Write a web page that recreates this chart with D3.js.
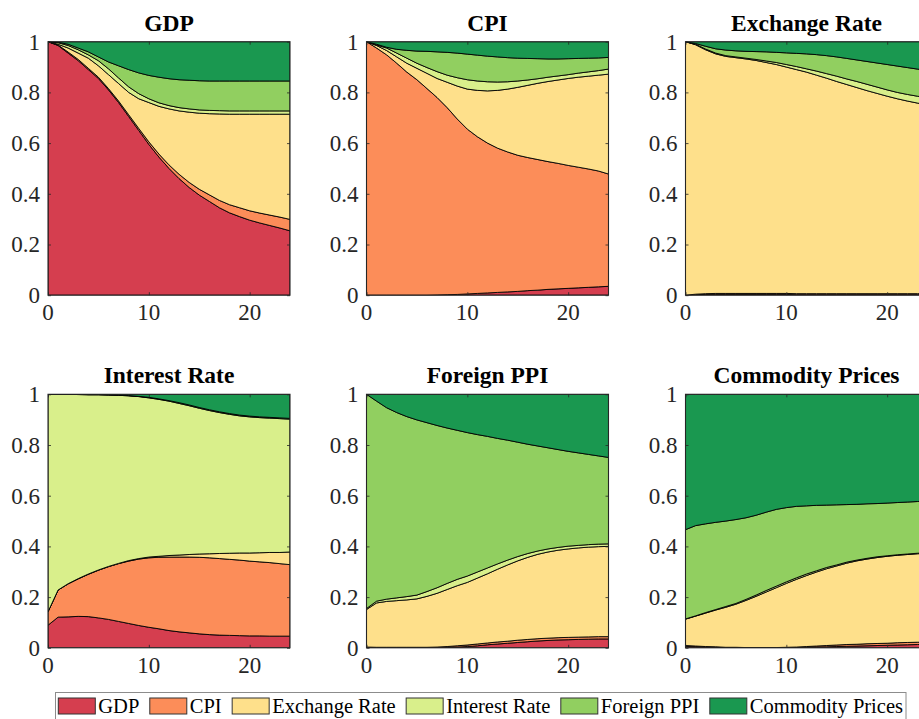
<!DOCTYPE html>
<html>
<head>
<meta charset="utf-8">
<script src="https://cdn.jsdelivr.net/npm/d3@7"></script>
</head>
<body style="margin:0">
<svg id="chart" width="919" height="719"></svg>
<script>
// ---------------- DATA ----------------
const series = ["GDP", "CPI", "Exchange Rate", "Interest Rate", "Foreign PPI", "Commodity Prices"];
const seriesColors = ["#d53e4f", "#fc8d59", "#fee08b", "#d9ef8b", "#91cf60", "#1a9850"];
const horizons = [0,1,2,3,4,5,6,7,8,9,10,11,12,13,14,15,16,17,18,19,20,21,22,23,24];
const panelTitles = ["GDP", "CPI", "Exchange Rate", "Interest Rate", "Foreign PPI", "Commodity Prices"];
const yTickValues = [0, 0.2, 0.4, 0.6, 0.8, 1];
const yTickLabels = ["0", "0.2", "0.4", "0.6", "0.8", "1"];
const xTickValues = [0, 10, 20];
const xTickLabels = ["0", "10", "20"];

// Variance shares, one row per shock (GDP, CPI, Exchange Rate, Interest Rate, Foreign PPI, Commodity Prices)
const vdGDP = [
  [1.0,0.985,0.955,0.925,0.89,0.855,0.81,0.76,0.705,0.65,0.595,0.545,0.50,0.46,0.425,0.395,0.37,0.345,0.325,0.31,0.296,0.285,0.275,0.265,0.254],
  [0,0.002,0.004,0.005,0.005,0.005,0.005,0.006,0.007,0.008,0.01,0.012,0.014,0.017,0.02,0.023,0.026,0.029,0.032,0.035,0.037,0.039,0.041,0.043,0.045],
  [0,0.003,0.016,0.025,0.04,0.045,0.055,0.069,0.088,0.117,0.155,0.188,0.221,0.25,0.277,0.30,0.32,0.341,0.357,0.369,0.381,0.39,0.398,0.406,0.415],
  [0,0.006,0.01,0.013,0.013,0.02,0.023,0.022,0.022,0.02,0.015,0.014,0.013,0.013,0.013,0.013,0.013,0.013,0.013,0.013,0.013,0.013,0.013,0.013,0.013],
  [0,0.002,0.005,0.007,0.012,0.015,0.027,0.048,0.068,0.082,0.092,0.101,0.106,0.11,0.113,0.115,0.116,0.117,0.118,0.118,0.118,0.118,0.118,0.118,0.118],
  [0,0.002,0.01,0.025,0.04,0.06,0.08,0.095,0.11,0.123,0.133,0.14,0.146,0.15,0.152,0.154,0.155,0.155,0.155,0.155,0.155,0.155,0.155,0.155,0.155]
];
const vdCPI = [
  [0,0,0,0,0,0,0,0.001,0.002,0.003,0.005,0.007,0.009,0.011,0.013,0.015,0.018,0.02,0.023,0.025,0.027,0.029,0.031,0.033,0.035],
  [1,0.975,0.948,0.915,0.88,0.85,0.815,0.779,0.738,0.692,0.65,0.618,0.591,0.569,0.552,0.537,0.525,0.515,0.504,0.495,0.485,0.476,0.467,0.457,0.443],
  [0,0.01,0.017,0.025,0.035,0.045,0.06,0.075,0.10,0.13,0.158,0.183,0.206,0.228,0.248,0.268,0.285,0.301,0.316,0.329,0.343,0.355,0.366,0.378,0.394],
  [0,0.002,0.01,0.015,0.02,0.02,0.023,0.027,0.028,0.033,0.037,0.037,0.036,0.033,0.029,0.025,0.021,0.018,0.017,0.016,0.015,0.016,0.017,0.018,0.02],
  [0,0.003,0.003,0.015,0.031,0.048,0.064,0.078,0.09,0.097,0.101,0.102,0.101,0.099,0.095,0.09,0.085,0.079,0.072,0.067,0.063,0.058,0.054,0.05,0.046],
  [0,0.01,0.022,0.03,0.034,0.037,0.038,0.04,0.042,0.045,0.049,0.053,0.057,0.06,0.063,0.065,0.066,0.067,0.068,0.068,0.067,0.066,0.065,0.064,0.062]
];
const vdER = [
  [0,0.002,0.003,0.003,0.003,0.003,0.003,0.003,0.003,0.003,0.003,0.002,0.002,0.002,0.002,0.002,0.002,0.002,0.002,0.002,0.002,0.002,0.002,0.002,0.002],
  [0,0.002,0.003,0.004,0.004,0.004,0.004,0.004,0.004,0.004,0.004,0.004,0.004,0.004,0.004,0.004,0.004,0.004,0.004,0.004,0.004,0.004,0.004,0.004,0.004],
  [1,0.984,0.962,0.945,0.935,0.93,0.925,0.919,0.911,0.903,0.893,0.884,0.874,0.862,0.85,0.837,0.825,0.813,0.801,0.79,0.779,0.769,0.76,0.752,0.744],
  [0,0.002,0.003,0.003,0.003,0.003,0.003,0.004,0.006,0.008,0.01,0.012,0.013,0.016,0.018,0.021,0.022,0.024,0.025,0.025,0.025,0.025,0.026,0.027,0.028],
  [0,0.003,0.011,0.017,0.022,0.024,0.027,0.031,0.036,0.04,0.046,0.052,0.059,0.065,0.071,0.076,0.081,0.085,0.09,0.095,0.1,0.104,0.106,0.107,0.108],
  [0,0.007,0.018,0.028,0.033,0.036,0.038,0.039,0.04,0.042,0.044,0.046,0.048,0.051,0.055,0.06,0.066,0.072,0.078,0.084,0.09,0.096,0.102,0.108,0.114]
];
const vdIR = [
  [0.089,0.121,0.122,0.124,0.123,0.118,0.112,0.104,0.096,0.088,0.081,0.075,0.068,0.063,0.059,0.055,0.052,0.05,0.049,0.048,0.047,0.047,0.046,0.046,0.046],
  [0.053,0.107,0.13,0.148,0.167,0.188,0.208,0.228,0.246,0.262,0.274,0.282,0.29,0.295,0.299,0.302,0.303,0.302,0.30,0.298,0.295,0.292,0.29,0.286,0.282],
  [0,0,0.001,0.001,0.001,0.001,0.001,0.001,0.002,0.002,0.003,0.004,0.006,0.008,0.01,0.013,0.016,0.02,0.024,0.028,0.032,0.036,0.04,0.044,0.05],
  [0.858,0.772,0.747,0.726,0.707,0.691,0.676,0.663,0.65,0.639,0.628,0.619,0.609,0.598,0.587,0.575,0.565,0.556,0.548,0.541,0.537,0.533,0.53,0.528,0.524],
  [0,0,0,0.001,0.001,0.001,0.001,0.001,0.001,0.001,0.002,0.002,0.002,0.003,0.003,0.003,0.003,0.003,0.003,0.003,0.003,0.003,0.003,0.003,0.003],
  [0,0,0,0,0.001,0.001,0.002,0.003,0.005,0.008,0.012,0.018,0.025,0.033,0.042,0.052,0.061,0.069,0.076,0.082,0.086,0.089,0.091,0.093,0.095]
];
const vdFP = [
  [0,0,0,0,0,0,0,0,0.001,0.003,0.005,0.008,0.012,0.015,0.018,0.021,0.024,0.027,0.029,0.031,0.032,0.033,0.034,0.035,0.035],
  [0.003,0.002,0.002,0.002,0.002,0.002,0.002,0.003,0.004,0.005,0.006,0.007,0.007,0.008,0.008,0.009,0.009,0.009,0.009,0.009,0.009,0.009,0.009,0.009,0.009],
  [0.148,0.175,0.181,0.184,0.187,0.191,0.201,0.212,0.225,0.237,0.247,0.26,0.273,0.287,0.301,0.313,0.324,0.333,0.34,0.345,0.349,0.352,0.354,0.355,0.356],
  [0.004,0.007,0.009,0.011,0.013,0.015,0.019,0.022,0.024,0.025,0.025,0.024,0.023,0.021,0.019,0.017,0.015,0.013,0.012,0.011,0.011,0.01,0.01,0.01,0.01],
  [0.845,0.789,0.755,0.731,0.71,0.691,0.666,0.64,0.613,0.588,0.566,0.542,0.519,0.495,0.473,0.451,0.431,0.414,0.399,0.386,0.374,0.365,0.356,0.348,0.341],
  [0,0.027,0.053,0.072,0.088,0.101,0.112,0.123,0.133,0.142,0.151,0.159,0.166,0.174,0.181,0.189,0.197,0.204,0.211,0.218,0.225,0.231,0.237,0.243,0.249]
];
const vdCP = [
  [0.005,0.004,0.003,0.002,0.001,0.001,0,0,0,0,0,0.001,0.002,0.003,0.004,0.005,0.006,0.007,0.008,0.009,0.01,0.011,0.012,0.013,0.013],
  [0.004,0.003,0.002,0.002,0.001,0.001,0.001,0.001,0.001,0.001,0.002,0.002,0.003,0.004,0.005,0.006,0.007,0.007,0.008,0.008,0.008,0.009,0.009,0.009,0.009],
  [0.104,0.118,0.132,0.145,0.158,0.17,0.186,0.202,0.219,0.236,0.252,0.267,0.28,0.292,0.303,0.312,0.321,0.329,0.334,0.339,0.343,0.345,0.347,0.349,0.351],
  [0.001,0.001,0.002,0.002,0.003,0.003,0.004,0.005,0.006,0.006,0.006,0.006,0.006,0.005,0.005,0.004,0.004,0.003,0.003,0.003,0.002,0.002,0.002,0.002,0.002],
  [0.352,0.356,0.35,0.344,0.337,0.331,0.322,0.315,0.309,0.303,0.293,0.282,0.269,0.258,0.246,0.237,0.227,0.22,0.215,0.21,0.208,0.206,0.205,0.204,0.204],
  [0.534,0.518,0.511,0.505,0.5,0.494,0.487,0.477,0.465,0.454,0.447,0.442,0.44,0.438,0.437,0.436,0.435,0.434,0.432,0.431,0.429,0.427,0.425,0.423,0.421]
];
const panelData = [vdGDP, vdCPI, vdER, vdIR, vdFP, vdCP];

// ---------------- LAYOUT ----------------
const FONT = '"Liberation Serif"';
const colLefts = [48, 366.5, 685.5];
const rowTops = [41.7, 394.3];
const plotW = 242, plotH = 253.5;

const svg = d3.select("#chart");
const defs = svg.append("defs");

const x = d3.scaleLinear().domain([0, 24]).range([0, plotW]);
const y = d3.scaleLinear().domain([0, 1]).range([plotH, 0]);

const stack = d3.stack().keys(d3.range(series.length)).value((row, k) => row[k]);
const area = d3.area()
  .x(d => x(d.data.h))
  .y0(d => y(d[0]))
  .y1(d => y(d[1]));

function addText(parent) {
  return parent.append("text").style("font-family", FONT);
}

panelData.forEach((vd, pi) => {
  const cx = colLefts[pi % 3], cy = rowTops[Math.floor(pi / 3)];
  const g = svg.append("g").attr("transform", `translate(${cx},${cy})`);

  const clipId = "clip" + pi;
  defs.append("clipPath").attr("id", clipId)
    .append("rect").attr("x", 0).attr("y", 0).attr("width", plotW).attr("height", plotH);

  const rows = horizons.map((h, i) => {
    const r = { h: h };
    vd.forEach((s, k) => { r[k] = s[i]; });
    return r;
  });
  const stacked = stack(rows);

  g.append("g").attr("clip-path", `url(#${clipId})`)
    .selectAll("path").data(stacked).join("path")
    .attr("d", area)
    .attr("fill", (d, i) => seriesColors[i])
    .attr("stroke", "#000")
    .attr("stroke-width", 0.9)
    .attr("stroke-linejoin", "round");

  // Tick marks via d3 axes (labels drawn separately as plain text)
  const axL = g.append("g").call(d3.axisLeft(y).tickValues(yTickValues).tickFormat("").tickSizeInner(-3).tickSizeOuter(0));
  const axB = g.append("g").attr("transform", `translate(0,${plotH})`)
    .call(d3.axisBottom(x).tickValues(xTickValues).tickFormat("").tickSizeInner(-3).tickSizeOuter(0));
  const axR = g.append("g").attr("transform", `translate(${plotW},0)`)
    .call(d3.axisRight(y).tickValues(yTickValues).tickFormat("").tickSizeInner(-3).tickSizeOuter(0));
  const axT = g.append("g")
    .call(d3.axisTop(x).tickValues(xTickValues).tickFormat("").tickSizeInner(-3).tickSizeOuter(0));
  [axL, axB, axR, axT].forEach(a => {
    a.select(".domain").remove();
    a.selectAll(".tick text").remove();
    a.selectAll(".tick line").attr("stroke", "#262626").attr("stroke-width", 0.8);
  });

  // Tick labels
  yTickValues.forEach((v, i) => {
    addText(g).attr("x", -8).attr("y", y(v) + 8)
      .attr("text-anchor", "end").style("font-size", "23px").attr("fill", "#262626")
      .text(yTickLabels[i]);
  });
  xTickValues.forEach((v, i) => {
    addText(g).attr("x", x(v)).attr("y", plotH + 25)
      .attr("text-anchor", "middle").style("font-size", "23px").attr("fill", "#262626")
      .text(xTickLabels[i]);
  });

  g.append("rect").attr("x", 0).attr("y", 0).attr("width", plotW).attr("height", plotH)
    .attr("fill", "none").attr("stroke", "#262626").attr("stroke-width", 1.1);

  addText(g)
    .attr("x", plotW / 2).attr("y", -11)
    .attr("text-anchor", "middle")
    .style("font-size", "23.5px").style("font-weight", "bold")
    .attr("fill", "#000")
    .text(panelTitles[pi]);
});

// ---------------- LEGEND ----------------
const legX = 55.5, legY = 692.5, legW = 850.5, legH = 27;
const leg = svg.append("g");
leg.append("rect").attr("x", legX).attr("y", legY).attr("width", legW).attr("height", legH)
  .attr("fill", "#fff").attr("stroke", "#8c8c8c").attr("stroke-width", 1);

const swW = 37, swH = 16, swGap = 3;
const legFont = 20.5;
const startX = 58.3, endX = 903;
const legItems = series.map((s, i) => {
  const it = leg.append("g");
  it.append("rect").attr("width", swW).attr("height", swH)
    .attr("fill", seriesColors[i]).attr("stroke", "#333").attr("stroke-width", 1);
  const t = addText(it).attr("x", swW + swGap).attr("y", swH - 1.5)
    .style("font-size", legFont + "px").attr("fill", "#000").text(s);
  return { g: it, w: t.node().getComputedTextLength() };
});
const totalContent = d3.sum(legItems, d => d.w) + series.length * (swW + swGap);
const gap = (endX - startX - totalContent) / (series.length - 1);
let cur = startX;
legItems.forEach(d => {
  d.g.attr("transform", `translate(${cur},698)`);
  cur += swW + swGap + d.w + gap;
});
</script>
</body>
</html>
